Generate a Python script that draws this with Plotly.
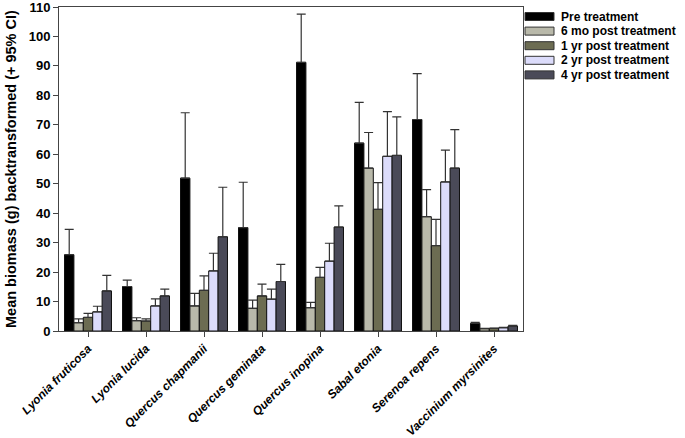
import plotly.graph_objects as go

species = ["Lyonia fruticosa", "Lyonia lucida", "Quercus chapmanii", "Quercus geminata",
           "Quercus inopina", "Sabal etonia", "Serenoa repens", "Vaccinium myrsinites"]

series_names = ["Pre treatment", "6 mo post treatment", "1 yr post treatment",
                "2 yr post treatment", "4 yr post treatment"]

pre_mean = [25.9, 15.1, 51.9, 35.1, 91.2, 63.8, 71.8, 2.6]
pre_upper = [34.5, 17.3, 74.1, 50.5, 107.6, 77.6, 87.4, 2.9]

mo6_mean = [2.8, 3.5, 8.5, 7.7, 7.9, 55.3, 38.8, 0.8]
mo6_upper = [4.1, 4.5, 12.8, 10.5, 9.7, 67.4, 48.0, 0.9]

yr1_mean = [4.6, 3.4, 13.8, 11.9, 18.2, 41.3, 29.0, 0.9]
yr1_upper = [6.0, 4.1, 18.7, 15.9, 21.6, 50.4, 37.9, 1.0]

yr2_mean = [6.5, 8.5, 20.4, 10.8, 23.7, 59.3, 50.6, 1.1]
yr2_upper = [8.4, 10.9, 26.4, 14.2, 29.8, 74.5, 61.4, 1.2]

yr4_mean = [13.6, 11.9, 32.0, 16.8, 35.3, 59.6, 55.3, 1.7]
yr4_upper = [18.9, 14.2, 48.8, 22.6, 42.5, 72.7, 68.4, 1.9]

means = [pre_mean, mo6_mean, yr1_mean, yr2_mean, yr4_mean]
uppers = [pre_upper, mo6_upper, yr1_upper, yr2_upper, yr4_upper]
colors = ["#000000", "#b9b9aa", "#6c6c52", "#dcdcfb", "#4a4a58"]

FONT = "Liberation Sans, Arial"
W, H = 685, 438
ML, MR, MT, MB = 59, 162, 7, 107
PW = W - ML - MR
PH = H - MT - MB

fig = go.Figure()
for name, m, u, c in zip(series_names, means, uppers, colors):
    fig.add_trace(go.Bar(
        x=species, y=m, name=name, showlegend=False,
        marker=dict(color=c, line=dict(color="#111111", width=1)),
        error_y=dict(type="data", symmetric=False,
                     array=[ui - mi for ui, mi in zip(u, m)],
                     arrayminus=[0] * len(m),
                     color="#333333", thickness=1.2, width=4.5),
    ))

# custom legend (compact, like the reference)
def px_x(p):
    return (p - ML) / PW

def px_y(p):
    return (H - MB - p) / PH

shapes = []
annotations = []
for i, (name, c) in enumerate(zip(series_names, colors)):
    yc = 16.5 + 14.6 * i
    shapes.append(dict(type="rect", xref="paper", yref="paper",
                       x0=px_x(525), x1=px_x(554), y0=px_y(yc - 4), y1=px_y(yc + 4),
                       fillcolor=c, line=dict(color="#333333", width=1)))
    annotations.append(dict(xref="paper", yref="paper", x=px_x(559), y=px_y(yc),
                            xanchor="left", yanchor="middle", showarrow=False,
                            text=f"<b>{name}</b>",
                            font=dict(size=12, family=FONT, color="black")))

annotations.append(dict(xref="paper", yref="paper", x=px_x(11), y=0.5,
                        xanchor="center", yanchor="middle", showarrow=False, textangle=-90,
                        text="<b>Mean biomass (g) backtransformed (+ 95% CI)</b>",
                        font=dict(size=14.5, family=FONT, color="black")))

fig.update_layout(
    width=W, height=H,
    barmode="group", bargap=0.19, bargroupgap=0,
    plot_bgcolor="white", paper_bgcolor="white",
    margin=dict(l=ML, r=MR, t=MT, b=MB, autoexpand=False),
    font=dict(family=FONT, color="black"),
    showlegend=False,
    shapes=shapes, annotations=annotations,
)

fig.update_xaxes(
    tickmode="array", tickvals=species,
    ticktext=[f"<b><i>{s}</i></b>" for s in species],
    tickangle=-45, tickfont=dict(size=12, family=FONT, color="black"),
    showline=True, linecolor="#444444", linewidth=1, mirror=True,
    ticks="outside", ticklen=5, tickcolor="#444444",
    range=[-0.5, 7.5], showgrid=False, automargin=False,
    ticklabeloverflow="allow",
)
fig.update_yaxes(
    range=[0, 110], tickmode="linear", tick0=0, dtick=10,
    tickfont=dict(size=13, family=FONT, color="black", weight="bold"),
    showline=True, linecolor="#444444", linewidth=1, mirror=True,
    ticks="outside", ticklen=5, tickcolor="#444444",
    showgrid=False, zeroline=False, automargin=False,
    ticklabeloverflow="allow",
)

fig.write_html("out.html",
               config={"displayModeBar": False},
               post_script="document.body.style.margin='0';document.body.style.overflow='hidden';")
